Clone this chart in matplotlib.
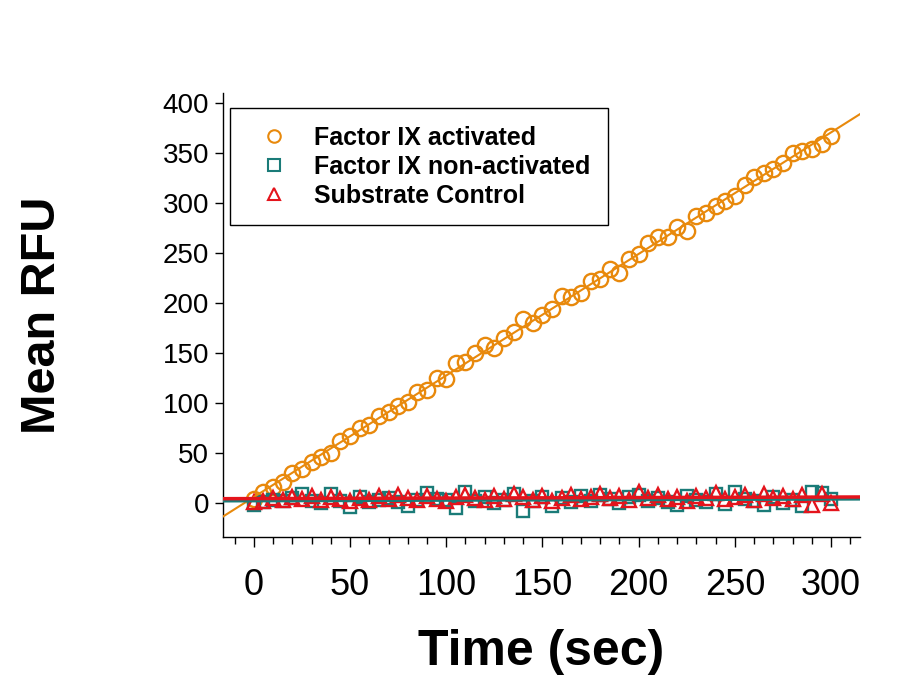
import numpy as np
import matplotlib
matplotlib.use("Agg")
import matplotlib.pyplot as plt
from matplotlib.ticker import MultipleLocator

plt.rcParams['font.family'] = ['Liberation Sans', 'DejaVu Sans']

time_sec = list(range(0, 301, 5))

fix_activated = [4, 11, 16, 21, 30, 34, 41, 46, 50, 62, 67, 75, 78, 87, 91, 97, 101, 111, 113, 125,
                 124, 140, 141, 150, 158, 155, 165, 171, 184, 180, 188, 194, 207, 206, 210, 222, 224,
                 234, 230, 244, 249, 260, 266, 266, 276, 272, 287, 290, 297, 302, 307, 318, 326, 330,
                 334, 340, 350, 352, 354, 359, 367]

fix_nonactivated = [-2, 1, 3, 2, 5, 9, 2, 0, 9, 2, -4, 6, 1, 3, 5, 1, -3, 3, 10, 4, 3, -5, 11, 2, 6,
                    0, 3, 9, -8, 2, 6, -3, 5, 1, 7, 2, 8, 4, 0, 6, 8, 2, 5, 1, -2, 7, 3, 1, 9, -1, 11,
                    4, 2, -2, 6, 0, 3, -3, 11, 10, 4]

substrate_control = [1, 2, 5, 3, 6, 4, 7, 3, 6, 4, 2, 5, 3, 7, 4, 8, 5, 3, 7, 4, 2, 6, 8, 5, 3, 7,
                     4, 9, 6, 3, 7, 2, 5, 8, 4, 6, 9, 5, 7, 3, 11, 5, 8, 4, 6, 2, 7, 5, 10, 4, 6, 8,
                     3, 9, 5, 7, 4, 8, -2, 9, 0]

series_labels = ["Factor IX activated", "Factor IX non-activated", "Substrate Control"]
x_ticks = [0, 50, 100, 150, 200, 250, 300]
y_ticks = [0, 50, 100, 150, 200, 250, 300, 350, 400]

c_orange = '#E8890C'
c_teal = '#1A7B78'
c_red = '#E4141C'

fig = plt.figure(figsize=(9.05, 6.84), dpi=100)
ax = fig.add_axes([0.2464, 0.2149, 0.7039, 0.649])

t = np.array(time_sec, dtype=float)
xfit = np.array([-16, 315], dtype=float)

series = [(fix_activated, c_orange, 'o', 11, 1.5, 9),
          (fix_nonactivated, c_teal, 's', 9, 2.5, 8),
          (substrate_control, c_red, '^', 10, 2.5, 9)]

handles = []
for (vals, col, mk, ms, lw, lms), lab in zip(series, series_labels):
    v = np.array(vals, dtype=float)
    ax.plot(t, v, linestyle='none', marker=mk, markersize=ms, markerfacecolor='none',
            markeredgecolor=col, markeredgewidth=1.7)
    h, = ax.plot([], [], linestyle='none', marker=mk, markersize=lms, markerfacecolor='none',
                 markeredgecolor=col, markeredgewidth=1.5, label=lab)
    handles.append(h)
    p = np.polyfit(t, v, 1)
    ax.plot(xfit, np.polyval(p, xfit), color=col, lw=lw, zorder=3)

ax.set_xlim(-16, 315)
ax.set_ylim(-34, 410)

ax.spines['top'].set_visible(False)
ax.spines['right'].set_visible(False)
ax.spines['left'].set_linewidth(1.0)
ax.spines['bottom'].set_linewidth(1.0)

ax.set_xticks(x_ticks)
ax.set_yticks(y_ticks)
ax.xaxis.set_minor_locator(MultipleLocator(10))
ax.tick_params(axis='x', which='major', direction='out', length=7, width=1, pad=15, labelsize=26)
ax.tick_params(axis='x', which='minor', direction='out', length=5, width=1)
ax.tick_params(axis='y', which='major', direction='out', length=6, width=1, pad=4, labelsize=20)

ax.set_xlabel('Time (sec)', fontsize=36, fontweight='bold', labelpad=19)
ax.set_ylabel('Mean RFU', fontsize=35, fontweight='bold', labelpad=70)

leg = ax.legend(handles=handles, loc='upper left', bbox_to_anchor=(0.011, 0.966),
                borderaxespad=0, fancybox=False, edgecolor='black', framealpha=1,
                prop={'size': 18, 'weight': 'bold'}, handletextpad=0.55, handlelength=2.1,
                labelspacing=0.2, borderpad=0.7)
leg.get_frame().set_linewidth(1.0)

fig.savefig('out.png', dpi=100)
